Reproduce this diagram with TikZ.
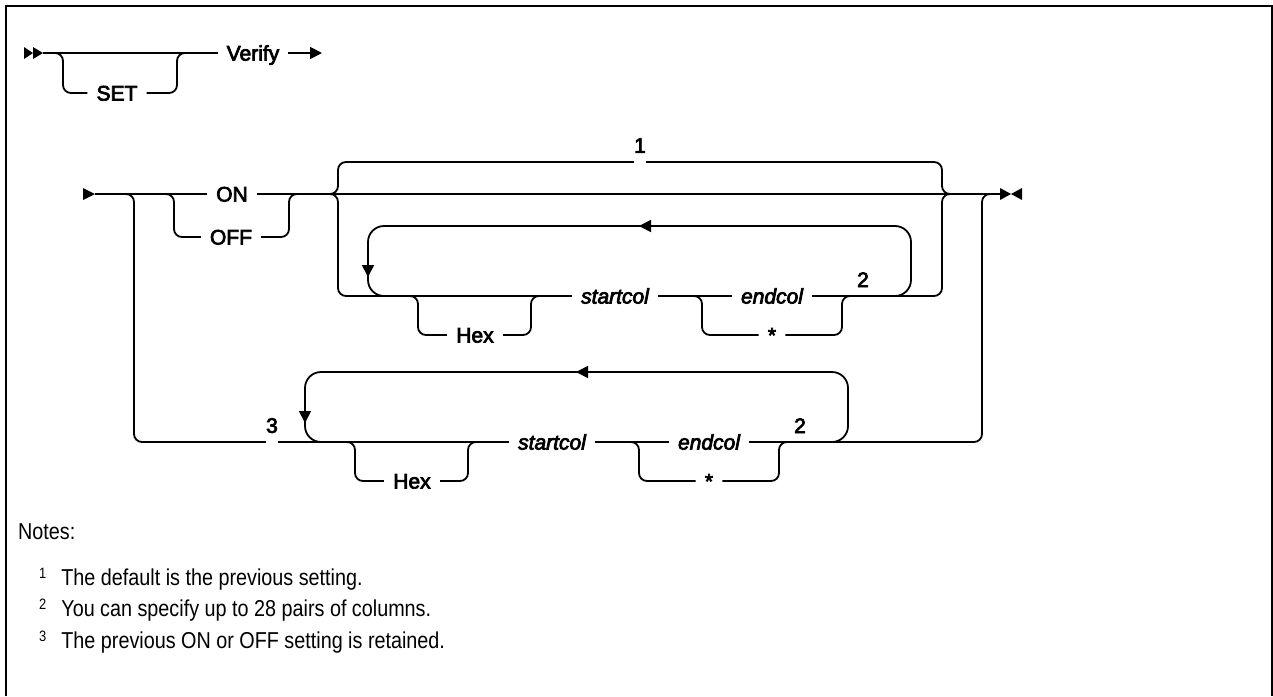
\documentclass[tikz,border=0pt]{standalone}
\usepackage{fontspec}
\setmainfont{Liberation Sans}
\newfontfamily\railfont{Liberation Sans}[FakeBold=3.5]
\newfontfamily\notefont{Liberation Sans}[FakeStretch=0.86]
\newcommand\notemark[1]{\raisebox{7pt}{\fontsize{15}{15}\selectfont #1}}
\usetikzlibrary{arrows.meta, backgrounds}
\tikzset{rail/.style={line width=1.8pt, rounded corners=8pt},
loopback/.style={line width=1.8pt, rounded corners=16pt},
back/.style={-{Triangle[length=12pt, width=12pt]}},
kw/.style={font=\railfont\fontsize{21}{25}\selectfont, fill=white, inner xsep=9pt, inner ysep=2pt, text height=15pt, text depth=0pt},
var/.style={kw, font=\railfont\itshape\fontsize{21}{25}\selectfont},
fnum/.style={kw, inner xsep=0.5pt, inner ysep=0pt, text depth=11pt, anchor=south},
fref/.style={font=\railfont\fontsize{21}{25}\selectfont, inner sep=0pt, anchor=base},
note/.style={font=\notefont\fontsize{23}{27}\selectfont, anchor=base west, inner sep=0pt}}

\begin{document}
\begin{tikzpicture}[x=1pt, y=-1pt]
  \useasboundingbox (0,0) rectangle (1273,696);
  \draw[line width=2pt] (5.5,696) -- (5.5,5.5) -- (1271.5,5.5) -- (1271.5,696);

  % SET Verify
  \node[kw] (set) at (117,93) {SET};
  \node[kw] (verify) at (253,53) {Verify};
  \coordinate (go) at (322,53);

  % ON | OFF, default and column pairs
  \node[kw] (on) at (232,194) {ON};
  \node[kw] (off) at (231,237) {OFF};
  \node[fnum] (fn1) at (640,164) {1};
  \node[kw] (hexA) at (475,335) {Hex};
  \node[var] (startA) at (615,296) {startcol};
  \node[var] (endA) at (772,296) {endcol};
  \node[kw] (starA) at (772,335) {*};
  \node[fref] (fn2a) at (863,287) {2};

  % row without ON/OFF
  \node[fnum] (fn3) at (272,444) {3};
  \node[kw] (hexB) at (412,481) {Hex};
  \node[var] (startB) at (552,442) {startcol};
  \node[var] (endB) at (709,442) {endcol};
  \node[kw] (starB) at (709,481) {*};
  \node[fref] (fn2b) at (800,433) {2};

  \begin{scope}[on background layer]
    \fill (24,47) -- (33,53) -- (24,59) -- cycle (33,47) -- (43,53) -- (33,59) -- cycle;
    \draw[rail] (43,53) -- (verify);
    \draw[rail] (55,53) -- (63,53) -- (63,93) -- (set);
    \draw[rail] (set) -- (177,93) -- (177,53) -- (185,53);
    \draw[rail, back] (verify) -- (go);

    \fill (83,188) -- (95,194) -- (83,200) -- cycle;
    \draw[rail] (95,194) -- (on);
    \draw[rail] (on) -- (1000,194);
    \fill (1000,188) -- (1011,194) -- (1000,200) -- cycle (1022,188) -- (1011,194) -- (1022,200) -- cycle;
    \draw[rail] (165,194) -- (174,194) -- (174,237) -- (off);
    \draw[rail] (off) -- (289,237) -- (289,194) -- (297,194);
    \draw[rail] (330,194) -- (338,194) -- (338,162) -- (942,162) -- (942,194) -- (950,194);
    \draw[rail] (330,194) -- (338,194) -- (338,296) -- (startA);
    \draw[rail] (startA) -- (endA);
    \draw[rail] (endA) -- (942,296) -- (942,194) -- (950,194);
    \draw[rail] (407,296) -- (418,296) -- (418,335) -- (hexA);
    \draw[rail] (hexA) -- (531,335) -- (531,296) -- (542,296);
    \draw[rail] (693,296) -- (702,296) -- (702,335) -- (starA);
    \draw[rail] (starA) -- (842,335) -- (842,296) -- (850,296);
    \draw[loopback, back] (890,296) -- (911,296) -- (911,226) -- (639,226);
    \draw[loopback, back] (645,226) -- (368,226) -- (368,277);
    \draw[loopback] (368,270) -- (368,296) -- (395,296);

    \draw[rail] (125,194) -- (134,194) -- (134,442) -- (startB);
    \draw[rail] (startB) -- (endB);
    \draw[rail] (endB) -- (982,442) -- (982,194) -- (990,194);
    \draw[rail] (344,442) -- (355,442) -- (355,481) -- (hexB);
    \draw[rail] (hexB) -- (468,481) -- (468,442) -- (479,442);
    \draw[rail] (630,442) -- (639,442) -- (639,481) -- (starB);
    \draw[rail] (starB) -- (779,481) -- (779,442) -- (787,442);
    \draw[loopback, back] (827,442) -- (848,442) -- (848,372) -- (576,372);
    \draw[loopback, back] (582,372) -- (305,372) -- (305,423);
    \draw[loopback] (305,416) -- (305,442) -- (332,442);
  \end{scope}

  % notes
  \node[note] (notes) at (18,539) {Notes:};
  \node[note] (note1) at (39,585) {\notemark{1}\hspace{15pt}The default is the previous setting.};
  \node[note] (note2) at (39,616.5) {\notemark{2}\hspace{15pt}You can specify up to 28 pairs of columns.};
  \node[note] (note3) at (39,648) {\notemark{3}\hspace{15pt}The previous ON or OFF setting is retained.};
\end{tikzpicture}
\end{document}
